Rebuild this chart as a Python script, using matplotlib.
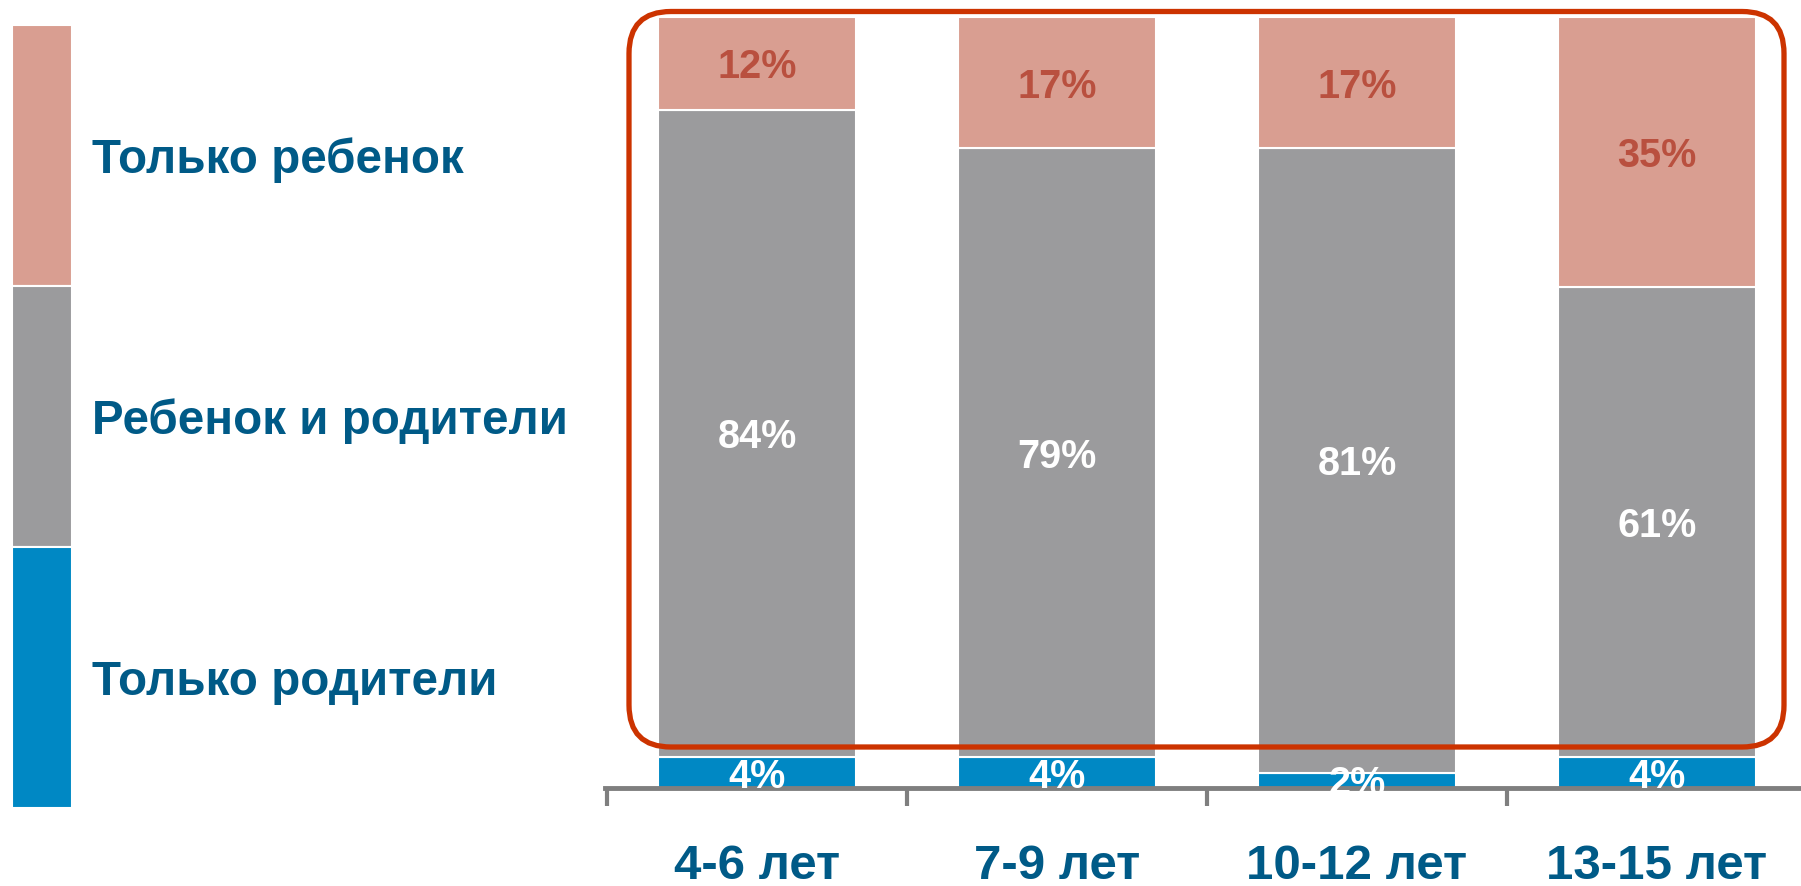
import matplotlib
matplotlib.use("Agg")
import matplotlib.pyplot as plt
from matplotlib.patches import FancyBboxPatch, Rectangle

plt.rcParams['font.family'] = ['Liberation Sans', 'DejaVu Sans']
plt.rcParams['font.weight'] = 'bold'

# data
categories = ['4-6 лет', '7-9 лет', '10-12 лет', '13-15 лет']
only_parents = [4, 4, 2, 4]
child_and_parents = [84, 79, 81, 61]
only_child = [12, 17, 17, 35]
series_names = ['Только родители', 'Ребенок и родители', 'Только ребенок']

BLUE = '#0088C4'
GRAY = '#9B9B9D'
PINK = '#D99E91'
TEXT_BLUE = '#005A87'
LABEL_RED = '#B9503F'
FRAME_RED = '#CC3300'
AXIS_GRAY = '#7F7F7F'

W, H = 1801, 886
fig = plt.figure(figsize=(W / 100, H / 100), dpi=100)

# main bar axes (pixel geometry of the reference)
x0, y_zero, y_top = 605, 788, 17
ax = fig.add_axes([x0 / W, (H - y_zero) / H, 1 - x0 / W, (y_zero - y_top) / H])
ax.set_xlim((x0 - 757) / 300, (W - 757) / 300)
ax.set_ylim(0, 100)

xs = range(len(categories))
bw = 0.657
segments = [(only_parents, BLUE, 'white'),
            (child_and_parents, GRAY, 'white'),
            (only_child, PINK, LABEL_RED)]
bottoms = [0] * len(categories)
for vals, col, tcol in segments:
    bars = ax.bar(xs, vals, bw, bottom=bottoms, color=col,
                  edgecolor='white', linewidth=1.5)
    for b, v, bt in zip(bars, vals, bottoms):
        ax.text(b.get_x() + b.get_width() / 2, bt + v / 2, f'{v}%',
                ha='center', va='center_baseline', color=tcol, fontsize=28.5,
                fontweight='bold')
    bottoms = [b + v for b, v in zip(bottoms, vals)]

for s in ['top', 'right', 'left']:
    ax.spines[s].set_visible(False)
ax.spines['bottom'].set_color(AXIS_GRAY)
ax.spines['bottom'].set_linewidth(3.5)
ax.set_yticks([])
ax.set_xticks(list(xs))
ax.set_xticklabels(categories, fontsize=35.5, fontweight='bold', color=TEXT_BLUE)
ax.tick_params(axis='x', which='major', length=0, pad=40)
ax.set_xticks([-0.5, 0.5, 1.5, 2.5], minor=True)
ax.tick_params(axis='x', which='minor', length=13, width=3,
               color=AXIS_GRAY, direction='out')

# overlay in pixel units for legend and rounded frame
ov = fig.add_axes([0, 0, 1, 1], zorder=5)
ov.set_xlim(0, W)
ov.set_ylim(H, 0)
ov.axis('off')
ov.patch.set_alpha(0)

frame = FancyBboxPatch((629, 11.5), 1155, 735.5,
                       boxstyle='round,pad=0,rounding_size=42',
                       fill=False, edgecolor=FRAME_RED, linewidth=3.8)
ov.add_patch(frame)

# legend column
leg_top, leg_bot = 25, 808
seg_h = (leg_bot - leg_top) / 3
leg_items = [(series_names[2], PINK), (series_names[1], GRAY), (series_names[0], BLUE)]
for i, (name, col) in enumerate(leg_items):
    y = leg_top + i * seg_h
    ov.add_patch(Rectangle((11.5, y), 60.5, seg_h, facecolor=col,
                           edgecolor='white', linewidth=1.5))
    ov.text(92, y + seg_h / 2, name, ha='left', va='center_baseline',
            fontsize=34.3, fontweight='bold', color=TEXT_BLUE)

fig.savefig('out.png', dpi=100)
